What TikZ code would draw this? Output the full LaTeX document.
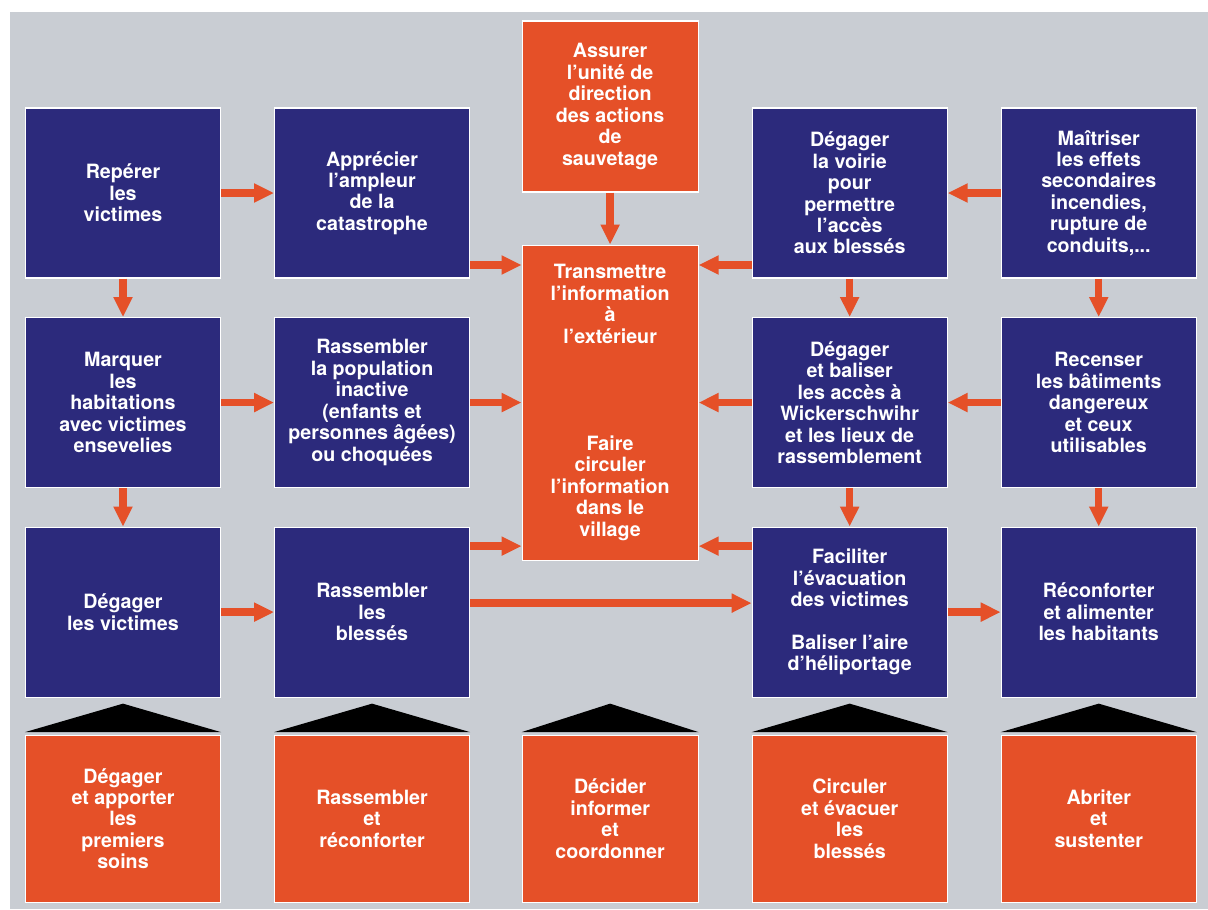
\documentclass[tikz,border=0pt]{standalone}
\usepackage{fontspec}
\setmainfont{TeX Gyre Heros}
\usepackage{xcolor}
\usetikzlibrary{arrows.meta,positioning}

\definecolor{navy}{RGB}{44,42,124}
\definecolor{sred}{RGB}{229,80,40}
\definecolor{bggray}{RGB}{201,205,211}

\begin{document}
\begin{tikzpicture}[
  node distance=0.77cm and 1.06cm,
  every node/.style={font=\fontsize{11.2}{12.2}\selectfont\bfseries,text=white,align=center},
  bluebox/.style={rectangle,draw=white,fill=navy,line width=0.6pt,inner sep=4pt,minimum width=3.9cm,minimum height=3.4cm},
  redbox/.style={rectangle,draw=white,fill=sred,line width=0.6pt,inner sep=4pt,minimum width=3.52cm,minimum height=3.42cm},
  basebox/.style={redbox,minimum width=3.9cm,minimum height=3.34cm},
  arrow/.style={-{Triangle[length=4mm,width=3.6mm]},draw=sred,line width=1.5mm},
  roof/.style={fill=black}
]
\fill[white] (0,0) rectangle (24.16,-18.18);
\useasboundingbox (0,0) rectangle (24.16,-18.18);
\fill[bggray] (0.2,-0.24) rectangle (24.16,-18.18);

% left columns
\node[bluebox] (rep) at (2.46,-3.86) {Repérer\\les\\victimes};
\node[bluebox,right=of rep] (ampl) {Apprécier\\l’ampleur\\de la\\catastrophe};
\node[bluebox,below=of rep] (marq) {Marquer\\les\\habitations\\avec victimes\\ensevelies};
\node[bluebox,right=of marq] (pop) {Rassembler\\la population\\inactive\\(enfants et\\personnes âgées)\\ou choquées};
\node[bluebox,below=of marq] (degv) {Dégager\\les victimes};
\node[bluebox,right=of degv] (bles) {Rassembler\\les\\blessés};

% centre
\node[redbox,right=1.03cm of pop,minimum height=6.3cm] (info) {Transmettre\\l’information\\à\\l’extérieur\\[4\baselineskip]Faire\\circuler\\l’information\\dans le\\village};
\node[redbox,above=1.04cm of info] (chef) {Assurer\\l’unité de\\direction\\des actions\\de\\sauvetage};

% right columns
\node[bluebox,right=of info] (balis) {Dégager\\et baliser\\les accès à\\Wickerschwihr\\et les lieux de\\rassemblement};
\node[bluebox,right=of balis] (recens) {Recenser\\les bâtiments\\dangereux\\et ceux\\utilisables};
\node[bluebox,above=of balis] (voirie) {Dégager\\la voirie\\pour\\permettre\\l’accès\\aux blessés};
\node[bluebox,above=of recens] (maitr) {Maîtriser\\les effets\\secondaires\\incendies,\\rupture de\\conduits,...};
\node[bluebox,below=of balis] (evac) {Faciliter\\l’évacuation\\des victimes\\[\baselineskip]Baliser l’aire\\d’héliportage};
\node[bluebox,below=of recens] (reconf) {Réconforter\\et alimenter\\les habitants};

% bottom row
\node[basebox,below=0.74cm of degv] (soins) {Dégager\\et apporter\\les\\premiers\\soins};
\node[basebox,below=0.74cm of bles] (regr) {Rassembler\\et\\réconforter};
\node[basebox,right=1.03cm of regr,minimum width=3.52cm] (coord) {Décider\\informer\\et\\coordonner};
\node[basebox,below=0.74cm of evac] (circ) {Circuler\\et évacuer\\les\\blessés};
\node[basebox,below=0.74cm of reconf] (abri) {Abriter\\et\\sustenter};

\foreach \b in {soins,regr,coord,circ,abri}
  \fill[roof] ([yshift=0.5mm]\b.north west) -- ([yshift=6.2mm]\b.north) -- ([yshift=0.5mm]\b.north east) -- cycle;

\coordinate (a1) at ([yshift=-1.44cm]ampl.east);
\coordinate (a3) at ([yshift=1.32cm]bles.east);
\coordinate (b1) at ([yshift=-1.44cm]voirie.west);
\coordinate (b3) at ([yshift=1.32cm]evac.west);
\coordinate (l3) at ([yshift=0.18cm]bles.east);

\draw[arrow] (rep) -- (ampl);
\draw[arrow] (rep) -- (marq);
\draw[arrow] (marq) -- (pop);
\draw[arrow] (marq) -- (degv);
\draw[arrow] (degv) -- (bles);
\draw[arrow] (chef) -- (info);
\draw[arrow] (a1) -- (a1 -| info.west);
\draw[arrow] (pop) -- (info);
\draw[arrow] (a3) -- (a3 -| info.west);
\draw[arrow] (b1) -- (b1 -| info.east);
\draw[arrow] (balis) -- (info);
\draw[arrow] (b3) -- (b3 -| info.east);
\draw[arrow] (l3) -- (l3 -| evac.west);
\draw[arrow] (maitr) -- (voirie);
\draw[arrow] (recens) -- (balis);
\draw[arrow] (evac) -- (reconf);
\draw[arrow] (voirie) -- (balis);
\draw[arrow] (balis) -- (evac);
\draw[arrow] (maitr) -- (recens);
\draw[arrow] (recens) -- (reconf);
\end{tikzpicture}
\end{document}
